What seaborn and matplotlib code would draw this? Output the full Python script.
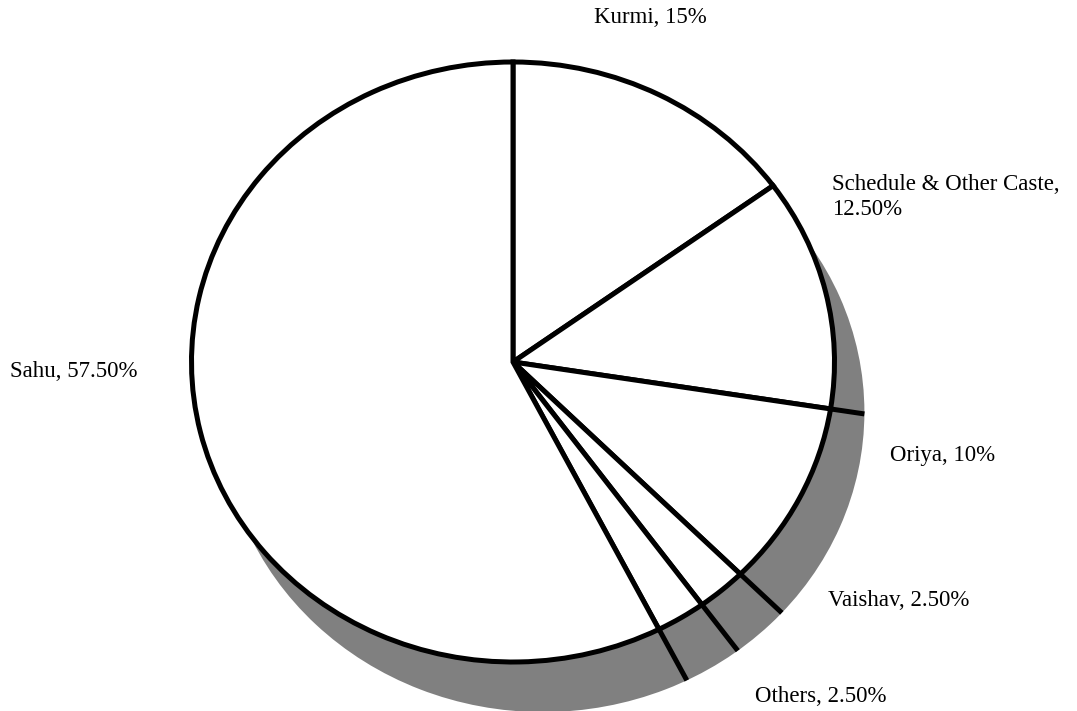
import numpy as np
import matplotlib
matplotlib.use("Agg")
import matplotlib.pyplot as plt
import seaborn as sns

# caste share of respondents
castes = ["Kurmi", "Schedule & Other Caste", "Oriya", "Vaishav", "Others", "Sahu"]
shares = [15, 12.5, 10, 2.5, 2.5, 57.5]
share_txt = ["15%", "12.50%", "10%", "2.50%", "2.50%", "57.50%"]

sns.set_style("white")
plt.rcParams['font.family'] = ['Liberation Serif', 'DejaVu Serif']

fig = plt.figure(figsize=(10.77, 7.11), dpi=100)
ax = fig.add_axes([0, 0, 1, 1])

# shadow first (one solid disc), shifted down-right
shadow_c = (0.093, -0.167)
ax.pie([sum(shares)], center=shadow_c, colors=['#808080'],
       startangle=90, counterclock=False, wedgeprops=dict(linewidth=0))
wedges, _ = ax.pie(shares, colors=['white'] * len(shares), startangle=90,
                   counterclock=False,
                   wedgeprops=dict(edgecolor='black', linewidth=3.6))

# slice edges run on to the rim of the shadow
c = np.array(shadow_c)
angles = sorted({round(w.theta1, 6) for w in wedges} | {round(w.theta2, 6) for w in wedges})
for a in angles:
    u = np.array([np.cos(np.radians(a)), np.sin(np.radians(a))])
    uc = u @ c
    t = uc + np.sqrt(uc ** 2 - c @ c + 1)
    if t > 1:
        ax.plot([u[0], t * u[0]], [u[1], t * u[1]], color='black', lw=3.6,
                solid_capstyle='butt', zorder=5)

# stretch the circle into the wide ellipse of the original
ax.set_aspect('auto')
ax.set_xlim(-513 / 321.5, (1077 - 513) / 321.5)
ax.set_ylim(-(711 - 362) / 300, 362 / 300)
ax.axis('off')

# data labels
label_pos = [(0.604, 0.975, 'center'), (0.7725, 0.723, 'left'), (0.826, 0.360, 'left'),
             (0.769, 0.156, 'left'), (0.701, 0.020, 'left'), (0.0093, 0.478, 'left')]
for name, pct, (x, y, ha) in zip(castes, share_txt, label_pos):
    txt = f"{name}, {pct}" if name != "Schedule & Other Caste" else f"{name},\n{pct}"
    fig.text(x, y, txt, ha=ha, va='center', fontsize=16.5, linespacing=1.3,
             color='black')

fig.savefig("out.png", dpi=100, facecolor='white')
